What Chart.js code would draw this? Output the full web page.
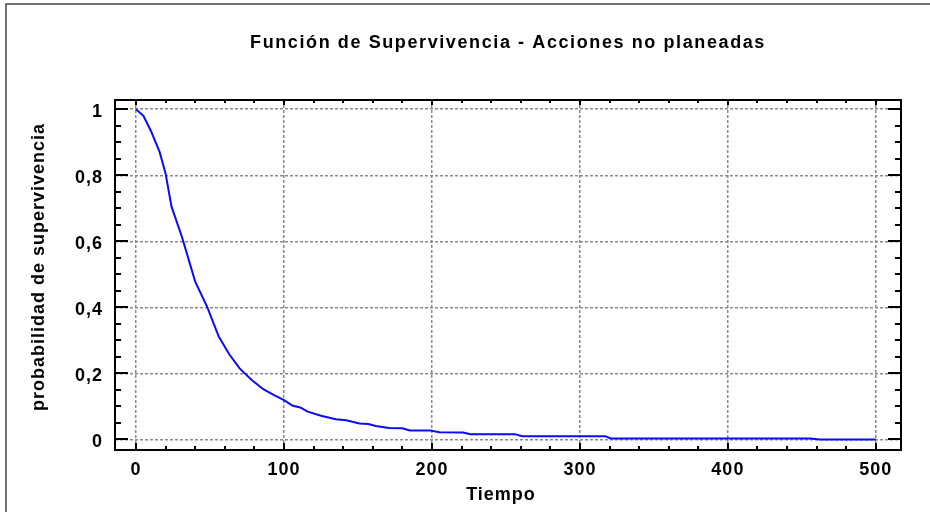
<!DOCTYPE html>
<html lang="es">
<head>
<meta charset="utf-8">
<title>Función de Supervivencia - Acciones no planeadas</title>
<script src="https://cdn.jsdelivr.net/npm/chart.js@4.4.1/dist/chart.umd.min.js"></script>
<style>
  html, body { margin: 0; padding: 0; background: #ffffff; }
  #wrap { width: 930px; height: 512px; }
</style>
</head>
<body>
<div id="wrap"><canvas id="chart" width="930" height="512"></canvas></div>
<script>
// Estimated survival curve (time in days, survival probability)
const tiempo = [0, 5, 10, 16, 20, 24, 31, 40, 48, 56, 63, 70, 78, 86, 93, 100, 106, 111, 116, 125, 135, 142, 151, 157, 162, 171, 180, 185, 199, 205, 221, 226, 256, 261, 317, 321, 456, 462, 500];
const supervivencia = [1, 0.98, 0.935, 0.87, 0.805, 0.705, 0.614, 0.478, 0.402, 0.311, 0.258, 0.215, 0.181, 0.152, 0.135, 0.119, 0.102, 0.097, 0.084, 0.072, 0.061, 0.058, 0.048, 0.047, 0.041, 0.035, 0.034, 0.027, 0.027, 0.022, 0.021, 0.016, 0.016, 0.010, 0.010, 0.003, 0.003, 0.0, 0.0];

const xTicks = [0, 100, 200, 300, 400, 500];
const xTickLabels = ['0', '100', '200', '300', '400', '500'];
const yTicks = [0, 0.2, 0.4, 0.6, 0.8, 1];
const yTickLabels = ['0', '0,2', '0,4', '0,6', '0,8', '1'];

const tituloGrafico = 'Función de Supervivencia - Acciones no planeadas';
const tituloX = 'Tiempo';
const tituloY = 'probabilidad de supervivencia';

const FONT = 'Liberation Sans, Arial, sans-serif';
const tickFont = { family: FONT, size: 18, weight: 'bold' };

// Frame, inward tick marks, titles and page border
const framePlugin = {
  id: 'framePlugin',
  beforeDraw(chart) {
    chart.ctx.letterSpacing = '1px';
  },
  afterDraw(chart) {
    const ctx = chart.ctx;
    const { left, right, top, bottom } = chart.chartArea;
    const xs = chart.scales.x, ys = chart.scales.y;
    ctx.save();
    ctx.strokeStyle = '#000';
    ctx.lineWidth = 2;
    ctx.setLineDash([]);
    ctx.beginPath();
    // x ticks (major every 100, minor every 20)
    for (let v = 0; v <= 500; v += 20) {
      const px = Math.round(xs.getPixelForValue(v));
      const major = v % 100 === 0;
      const lb = major ? 7 : 4, lt = major ? 5 : 3;
      ctx.moveTo(px, bottom); ctx.lineTo(px, bottom - lb);
      ctx.moveTo(px, top); ctx.lineTo(px, top + lt);
    }
    // y ticks (major every 0.2, minor every 0.05)
    for (let i = 0; i <= 20; i++) {
      const v = i * 0.05;
      const py = Math.round(ys.getPixelForValue(v));
      const len = i % 4 === 0 ? 13 : 6;
      ctx.moveTo(left, py); ctx.lineTo(left + len, py);
      ctx.moveTo(right, py); ctx.lineTo(right - len, py);
    }
    ctx.stroke();
    ctx.strokeRect(left, top, right - left, bottom - top);

    // page border (top and left)
    ctx.strokeStyle = '#444';
    ctx.lineWidth = 1.5;
    ctx.beginPath();
    ctx.moveTo(6, 512); ctx.lineTo(6, 4); ctx.lineTo(930, 4);
    ctx.stroke();

    // titles
    ctx.fillStyle = '#000';
    ctx.textAlign = 'center';
    ctx.textBaseline = 'middle';
    ctx.letterSpacing = '1.6px';
    ctx.font = 'bold 18px ' + FONT;
    ctx.fillText(tituloGrafico, (left + right) / 2, 43);
    ctx.letterSpacing = '1px';
    ctx.fillText(tituloX, 501, 495);
    ctx.translate(39, 267);
    ctx.rotate(-Math.PI / 2);
    ctx.fillText(tituloY, 0, 0);
    ctx.restore();
  }
};

new Chart(document.getElementById('chart'), {
  type: 'line',
  data: {
    datasets: [{
      label: 'Supervivencia',
      data: tiempo.map((t, i) => ({ x: t, y: supervivencia[i] })),
      borderColor: '#0a0aff',
      borderWidth: 2,
      pointRadius: 0,
      tension: 0,
      fill: false
    }]
  },
  options: {
    responsive: false,
    animation: false,
    layout: { padding: { top: 100, right: 29, bottom: 0, left: 0 } },
    plugins: { legend: { display: false }, title: { display: false }, tooltip: { enabled: false } },
    scales: {
      x: {
        type: 'linear',
        min: -14.2,
        max: 517,
        afterBuildTicks: (axis) => { axis.ticks = xTicks.map(v => ({ value: v })); },
        afterFit: (s) => { s.height = 62; },
        ticks: {
          callback: (v, i) => xTickLabels[i],
          font: tickFont, color: '#000', padding: 9,
          autoSkip: false, maxRotation: 0
        },
        grid: { color: '#8a8a8a', lineWidth: 1.5, drawTicks: false },
        border: { display: false, dash: [3, 2] }
      },
      y: {
        type: 'linear',
        min: -0.032,
        max: 1.028,
        afterBuildTicks: (axis) => { axis.ticks = yTicks.map(v => ({ value: v })); },
        afterFit: (s) => { s.width = 115; },
        ticks: {
          callback: (v, i) => yTickLabels[i],
          font: tickFont, color: '#000', padding: 12,
          labelOffset: 3,
          autoSkip: false
        },
        grid: { color: '#8a8a8a', lineWidth: 1.5, drawTicks: false },
        border: { display: false, dash: [3, 2] }
      }
    }
  },
  plugins: [framePlugin]
});
</script>
</body>
</html>
